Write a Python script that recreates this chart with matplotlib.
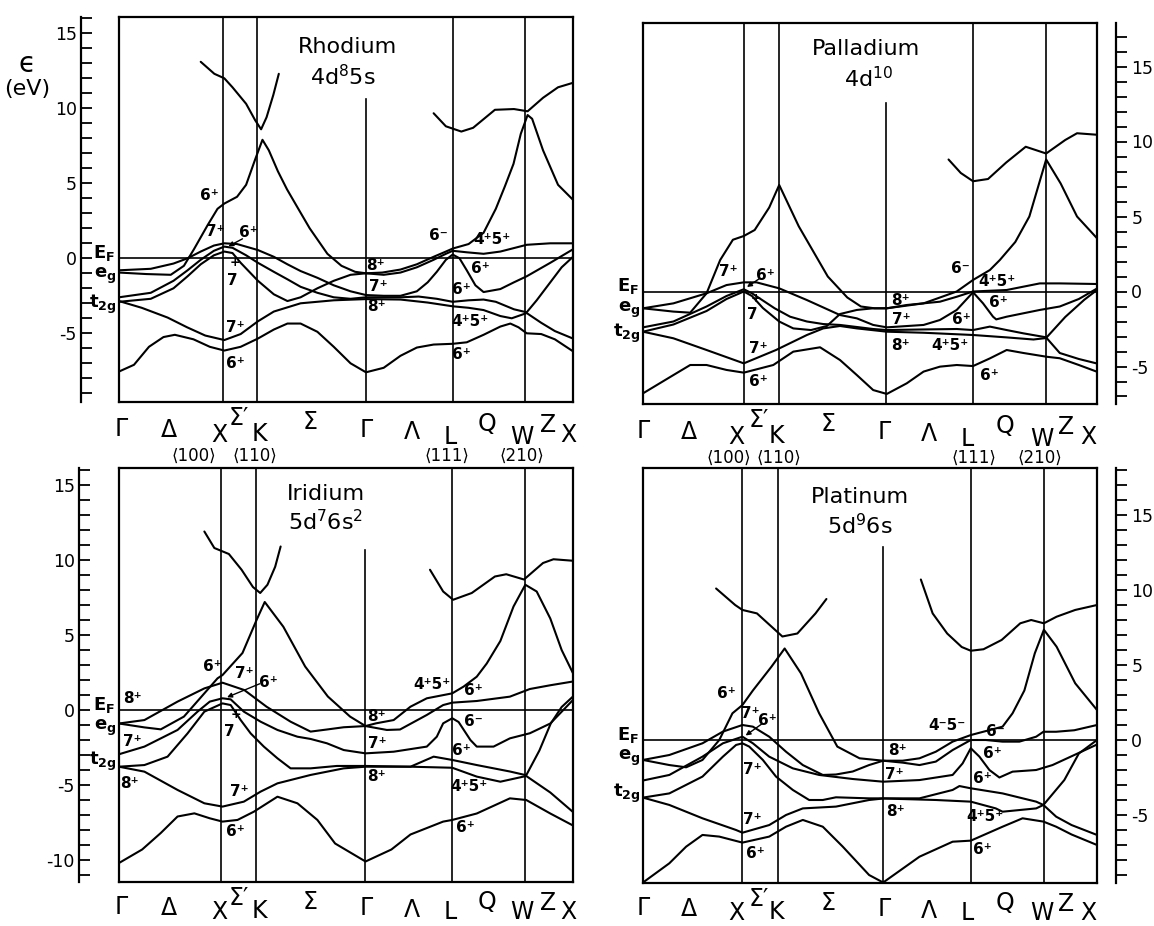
import matplotlib
matplotlib.use('Agg')
import matplotlib.pyplot as plt
from matplotlib.ticker import MultipleLocator

FIG_W, FIG_H = 1154, 926
PX_EV = 15.0  # pixels per eV on every panel
plt.rcParams['axes.unicode_minus'] = False

# ---------------- data ----------------
# k is the fraction of the path Gamma-X-K-Gamma-L-W-X, E in eV
path_names = ['Γ', 'Δ', 'X', 'Σ′', 'K', 'Σ', 'Γ', 'Λ', 'L', 'Q', 'W', 'Z', 'X']

# symmetry lines: X, K, Gamma, L, W
rh_sym = [0.229, 0.304, 0.544, 0.736, 0.894]
pd_sym = [0.222, 0.300, 0.536, 0.727, 0.888]
ir_sym = [0.225, 0.302, 0.542, 0.733, 0.895]
pt_sym = [0.219, 0.297, 0.529, 0.722, 0.883]

# --- Rhodium 4d8 5s
rh_b1 = [(0, -7.55), (0.033, -7.1), (0.066, -5.9), (0.098, -5.25), (0.123, -5.1), (0.164, -5.4),
         (0.2, -5.9), (0.232, -6.15), (0.268, -5.9), (0.306, -5.35), (0.341, -4.75), (0.371, -4.35),
         (0.4, -4.35), (0.437, -4.9), (0.473, -5.9), (0.51, -7.0), (0.544, -7.6), (0.583, -7.3),
         (0.62, -6.5), (0.656, -5.95), (0.693, -5.75), (0.735, -5.7), (0.766, -5.6), (0.803, -5.1),
         (0.84, -4.55), (0.862, -4.35), (0.88, -4.6), (0.898, -5.0), (0.93, -5.05), (0.96, -5.4),
         (1.0, -6.2)]
rh_b2 = [(0, -2.85), (0.05, -3.3), (0.107, -3.95), (0.15, -4.6), (0.19, -5.15), (0.232, -5.45),
         (0.268, -5.05), (0.306, -4.2), (0.341, -3.55), (0.4, -3.0), (0.473, -2.8), (0.544, -2.72),
         (0.62, -2.75), (0.68, -2.95), (0.735, -3.2), (0.77, -3.3), (0.803, -3.45), (0.84, -3.85),
         (0.865, -4.0), (0.898, -3.65), (0.93, -4.3), (0.96, -4.85), (1.0, -5.35)]
rh_s = [(0, -0.95), (0.06, -1.05), (0.114, -1.1), (0.143, -0.5), (0.165, 0.6), (0.195, 2.2),
        (0.217, 3.3), (0.232, 3.65), (0.26, 4.1), (0.28, 4.9), (0.3, 6.6), (0.316, 7.9),
        (0.33, 7.2), (0.35, 5.8), (0.37, 4.6), (0.393, 3.4), (0.42, 2.0), (0.459, 0.3),
        (0.49, -0.5), (0.52, -0.9), (0.544, -1.0), (0.58, -0.95), (0.62, -0.75), (0.656, -0.4),
        (0.693, 0.1), (0.72, 0.45), (0.735, 0.65), (0.77, 0.95), (0.803, 1.7), (0.83, 3.3),
        (0.85, 4.8), (0.869, 6.3), (0.885, 8.3), (0.9, 9.55), (0.91, 9.3), (0.934, 7.2),
        (0.967, 4.9), (1.0, 3.9)]
rh_e1 = [(0, -0.8), (0.07, -0.7), (0.12, -0.35), (0.151, 0.0), (0.18, 0.45), (0.209, 0.85),
         (0.232, 1.0), (0.26, 0.95), (0.306, 0.55), (0.341, 0.1), (0.371, -0.4), (0.4, -0.85),
         (0.437, -1.3), (0.473, -1.8), (0.51, -2.2), (0.544, -2.45), (0.583, -2.5), (0.62, -2.5),
         (0.656, -2.2), (0.68, -1.6), (0.7, -0.9), (0.72, -0.1), (0.735, 0.25), (0.75, 0.0),
         (0.766, -0.8), (0.785, -1.8), (0.803, -2.25), (0.84, -2.05), (0.87, -1.6), (0.898, -1.2),
         (0.95, -0.3), (1.0, 0.6)]
rh_d3 = [(0, -2.6), (0.07, -2.3), (0.12, -1.5), (0.151, -0.8), (0.18, -0.1), (0.209, 0.5),
         (0.232, 0.78), (0.25, 0.7), (0.28, 0.2), (0.306, -0.3), (0.341, -0.9), (0.371, -1.4),
         (0.4, -1.9), (0.437, -2.3), (0.473, -2.6), (0.51, -2.7), (0.544, -2.6), (0.62, -2.6),
         (0.66, -2.55), (0.7, -2.7), (0.735, -2.9), (0.77, -2.8), (0.803, -2.75), (0.83, -2.9),
         (0.87, -3.4), (0.898, -3.6), (0.92, -2.8), (0.95, -1.6), (0.975, -0.6), (1.0, 0.1)]
rh_d4 = [(0, -2.9), (0.07, -2.7), (0.12, -2.0), (0.151, -1.2), (0.18, -0.4), (0.209, 0.2),
         (0.232, 0.45), (0.25, 0.35), (0.268, -0.3), (0.306, -1.5), (0.341, -2.4), (0.371, -2.85),
         (0.4, -2.6), (0.437, -2.0), (0.473, -1.5), (0.51, -1.1), (0.544, -1.0), (0.583, -1.1),
         (0.62, -0.95), (0.656, -0.6), (0.693, -0.1), (0.72, 0.3), (0.735, 0.5), (0.766, 0.4),
         (0.803, 0.3), (0.84, 0.45), (0.898, 0.9), (0.95, 1.0), (1.0, 1.0)]
rh_u1 = [(0.18, 13.1), (0.21, 12.3), (0.232, 12.0), (0.25, 11.4), (0.28, 10.3), (0.3, 9.2),
         (0.313, 8.6), (0.325, 9.4), (0.34, 10.9), (0.352, 12.3)]
rh_u2 = [(0.693, 9.67), (0.72, 8.8), (0.754, 8.45), (0.78, 8.7), (0.828, 9.9), (0.87, 9.95),
         (0.9, 9.8), (0.934, 10.7), (0.967, 11.4), (1.0, 11.7)]

# --- Palladium 4d10
pd_b1 = [(0, -6.79), (0.067, -5.57), (0.104, -4.9), (0.14, -4.9), (0.184, -5.23), (0.222, -5.41),
         (0.287, -4.9), (0.331, -4.01), (0.39, -3.72), (0.434, -4.57), (0.471, -5.57),
         (0.507, -6.57), (0.537, -6.83), (0.581, -6.12), (0.618, -5.34), (0.654, -5.01),
         (0.691, -4.9), (0.727, -4.97), (0.764, -4.46), (0.801, -3.9), (0.838, -4.1),
         (0.889, -4.35), (0.918, -4.45), (0.96, -4.9), (1.0, -5.35)]
pd_b2 = [(0, -2.68), (0.067, -3.12), (0.14, -3.9), (0.222, -4.79), (0.293, -3.9), (0.361, -2.9),
         (0.397, -2.46), (0.434, -2.3), (0.471, -2.46), (0.537, -2.68), (0.618, -2.75),
         (0.727, -2.9), (0.801, -3.06), (0.86, -3.2), (0.889, -3.1), (0.918, -4.1), (0.96, -4.5),
         (1.0, -4.8)]
pd_s = [(0, -1.12), (0.067, -1.34), (0.104, -1.41), (0.14, -0.12), (0.17, 2.1), (0.198, 3.45),
        (0.222, 3.7), (0.246, 4.1), (0.278, 5.6), (0.3, 7.1), (0.343, 4.35), (0.407, 1.0),
        (0.45, -0.4), (0.48, -1.0), (0.51, -1.12), (0.537, -1.12), (0.618, -0.79), (0.691, 0.0),
        (0.727, 0.77), (0.764, 1.43), (0.786, 2.1), (0.82, 3.3), (0.851, 5.0), (0.888, 8.8),
        (0.92, 7.2), (0.956, 5.0), (1.0, 3.55)]
pd_e1 = [(0, -1.12), (0.067, -0.79), (0.14, -0.12), (0.184, 0.43), (0.222, 0.61), (0.25, 0.61),
         (0.3, 0.21), (0.361, -0.57), (0.434, -1.57), (0.471, -1.79), (0.507, -2.23),
         (0.537, -2.39), (0.618, -2.23), (0.654, -1.9), (0.691, -1.23), (0.727, -0.05),
         (0.749, -0.79), (0.771, -1.68), (0.778, -1.86), (0.801, -1.68), (0.874, -1.23),
         (0.918, -1.0), (0.96, -0.5), (1.0, 0.2)]
pd_d3 = [(0, -2.39), (0.067, -2.0), (0.14, -1.0), (0.184, -0.3), (0.222, 0.15), (0.24, -0.12),
         (0.29, -1.12), (0.324, -1.68), (0.361, -2.0), (0.397, -2.17), (0.434, -2.23),
         (0.507, -2.5), (0.537, -2.57), (0.618, -2.53), (0.691, -2.5), (0.727, -2.57),
         (0.764, -2.34), (0.801, -2.57), (0.838, -2.79), (0.889, -3.06), (0.93, -1.7),
         (0.972, -0.55), (1.0, 0.1)]
pd_d4 = [(0, -2.68), (0.067, -2.2), (0.14, -1.3), (0.184, -0.5), (0.222, 0.0), (0.24, -0.3),
         (0.264, -1.1), (0.3, -2.0), (0.331, -2.46), (0.37, -2.57), (0.405, -2.3), (0.434, -1.5),
         (0.471, -1.23), (0.507, -1.12), (0.537, -1.12), (0.581, -0.9), (0.654, -0.68),
         (0.691, -0.35), (0.727, 0.0), (0.801, 0.1), (0.874, 0.54), (0.918, 0.54), (1.0, 0.5)]
pd_u2 = [(0.673, 8.8), (0.7, 7.9), (0.727, 7.35), (0.76, 7.5), (0.8, 8.6), (0.843, 9.65),
         (0.888, 9.2), (0.93, 10.1), (0.956, 10.55), (1.0, 10.45)]

# --- Iridium 5d7 6s2
ir_b1 = [(0, -10.2), (0.051, -9.3), (0.092, -8.2), (0.129, -7.1), (0.166, -6.89), (0.2, -7.22),
         (0.228, -7.44), (0.261, -7.33), (0.297, -6.78), (0.349, -5.78), (0.393, -6.22),
         (0.437, -7.33), (0.476, -8.9), (0.543, -10.1), (0.6, -9.3), (0.642, -8.3), (0.714, -7.44),
         (0.734, -7.33), (0.788, -6.9), (0.861, -5.89), (0.897, -6.0), (0.95, -6.9), (1.0, -7.7)]
ir_b2 = [(0, -3.78), (0.056, -4.11), (0.129, -5.33), (0.188, -6.22), (0.228, -6.44), (0.275, -6.11),
         (0.312, -5.44), (0.349, -4.89), (0.422, -4.33), (0.495, -3.89), (0.543, -3.78),
         (0.642, -3.78), (0.734, -3.85), (0.788, -4.44), (0.84, -4.78), (0.897, -4.4), (0.95, -5.5),
         (1.0, -6.8)]
ir_s = [(0, -0.9), (0.056, -1.16), (0.092, -1.29), (0.143, -0.44), (0.188, 1.11), (0.217, 2.11),
        (0.228, 2.33), (0.272, 3.8), (0.303, 6.0), (0.321, 7.2), (0.362, 5.55), (0.41, 2.9),
        (0.46, 0.9), (0.509, -0.44), (0.543, -1.07), (0.566, -0.89), (0.605, -0.67), (0.642, 0.22),
        (0.678, 0.78), (0.734, 1.11), (0.759, 1.56), (0.788, 2.22), (0.81, 3.1), (0.84, 4.6),
        (0.869, 6.9), (0.895, 8.35), (0.92, 7.9), (0.95, 6.1), (0.975, 4.0), (1.0, 2.45)]
ir_e1 = [(0, -0.9), (0.056, -0.67), (0.129, 0.56), (0.188, 1.44), (0.228, 1.82), (0.276, 1.33),
         (0.325, 0.22), (0.378, -0.78), (0.422, -1.44), (0.458, -1.3), (0.495, -1.15),
         (0.543, -1.07), (0.59, -1.33), (0.619, -1.3), (0.678, -0.33), (0.714, 0.33), (0.734, 0.49),
         (0.788, 0.6), (0.861, 0.89), (0.905, 1.4), (0.95, 1.65), (1.0, 1.9)]
ir_d3 = [(0, -2.95), (0.056, -2.44), (0.129, -1.33), (0.173, -0.11), (0.2, 0.56), (0.228, 0.78),
         (0.246, 0.71), (0.275, -0.11), (0.312, -0.78), (0.349, -1.33), (0.393, -1.78),
         (0.422, -1.93), (0.458, -2.22), (0.495, -2.67), (0.543, -2.89), (0.605, -2.78),
         (0.678, -2.44), (0.7, -1.78), (0.714, -0.89), (0.734, -0.55), (0.748, -0.8), (0.774, -2.0),
         (0.788, -2.44), (0.825, -2.44), (0.861, -1.89), (0.905, -1.55), (0.95, -0.9), (1.0, 0.67)]
ir_d4 = [(0, -3.78), (0.056, -3.67), (0.107, -3.11), (0.151, -1.56), (0.188, -0.11), (0.228, 0.44),
         (0.246, 0.33), (0.268, -0.67), (0.29, -1.56), (0.319, -2.44), (0.349, -3.22),
         (0.378, -3.89), (0.422, -3.89), (0.48, -3.73), (0.543, -3.73), (0.642, -3.78),
         (0.693, -3.11), (0.734, -3.33), (0.788, -3.67), (0.861, -4.1), (0.897, -4.35),
         (0.926, -2.7), (0.951, -0.9), (0.975, 0.2), (1.0, 0.9)]
ir_u1 = [(0.188, 11.9), (0.21, 10.8), (0.242, 10.4), (0.27, 9.35), (0.295, 8.2), (0.311, 7.8),
         (0.327, 8.35), (0.344, 9.55), (0.356, 10.9)]
ir_u2 = [(0.685, 9.35), (0.714, 7.9), (0.736, 7.35), (0.777, 7.8), (0.828, 8.9), (0.853, 9.05),
         (0.892, 8.7), (0.934, 9.8), (0.957, 10.05), (1.0, 9.95)]

# --- Platinum 5d9 6s
pt_b1 = [(0, -9.5), (0.058, -8.22), (0.095, -7.11), (0.131, -6.33), (0.168, -6.44), (0.219, -6.84),
         (0.278, -6.44), (0.315, -5.78), (0.352, -5.33), (0.396, -5.78), (0.44, -7.11),
         (0.498, -9.0), (0.529, -9.5), (0.609, -7.78), (0.682, -6.78), (0.722, -6.71),
         (0.792, -5.78), (0.836, -5.22), (0.882, -5.44), (0.91, -5.78), (0.944, -6.3), (1.0, -7.0)]
pt_b2 = [(0, -3.84), (0.058, -4.33), (0.131, -5.22), (0.205, -6.0), (0.219, -6.18), (0.278, -5.67),
         (0.315, -5.0), (0.352, -4.56), (0.425, -4.44), (0.498, -4.0), (0.529, -3.9), (0.645, -4.0),
         (0.722, -4.11), (0.777, -4.56), (0.792, -4.78), (0.866, -4.56), (0.882, -4.33),
         (0.91, -5.11), (0.944, -5.67), (1.0, -6.33)]
pt_s = [(0, -1.33), (0.058, -1.67), (0.095, -1.82), (0.131, -1.33), (0.168, 0.0), (0.197, 1.78),
        (0.219, 2.33), (0.242, 3.3), (0.283, 4.89), (0.312, 6.1), (0.348, 4.44), (0.388, 1.78),
        (0.428, -0.44), (0.477, -1.22), (0.529, -1.38), (0.572, -1.38), (0.609, -1.22),
        (0.645, -0.78), (0.682, -0.11), (0.722, 0.33), (0.792, 0.89), (0.814, 1.78), (0.84, 3.3),
        (0.863, 5.78), (0.883, 7.35), (0.911, 6.22), (0.952, 3.78), (1.0, 2.0)]
pt_e1 = [(0, -1.33), (0.058, -1.0), (0.131, -0.22), (0.176, 0.56), (0.219, 1.0), (0.242, 0.89),
         (0.278, 0.22), (0.315, -0.78), (0.352, -1.67), (0.396, -2.33), (0.425, -2.3),
         (0.462, -2.1), (0.498, -1.67), (0.529, -1.38), (0.572, -1.51), (0.609, -1.67),
         (0.645, -1.44), (0.682, -0.67), (0.722, 0.0), (0.755, 0.0), (0.792, -0.11), (0.829, -0.11),
         (0.866, 0.22), (0.882, 0.55), (0.91, 0.55), (0.95, 0.65), (1.0, 1.0)]
pt_d3 = [(0, -2.7), (0.058, -2.33), (0.131, -1.11), (0.176, -0.22), (0.219, 0.22), (0.242, -0.22),
         (0.278, -1.11), (0.33, -1.89), (0.388, -2.33), (0.462, -2.6), (0.529, -2.78),
         (0.609, -2.67), (0.682, -2.33), (0.704, -1.56), (0.722, -0.55), (0.741, -1.11),
         (0.763, -2.0), (0.785, -2.5), (0.814, -2.11), (0.866, -2.0), (0.902, -1.67), (0.95, -1.0),
         (1.0, -0.3)]
pt_d4 = [(0, -3.84), (0.058, -3.56), (0.131, -2.44), (0.176, -1.11), (0.205, -0.33), (0.219, -0.22),
         (0.234, -0.44), (0.264, -1.33), (0.293, -2.44), (0.33, -3.33), (0.366, -4.0),
         (0.396, -4.0), (0.425, -3.82), (0.498, -3.89), (0.529, -3.89), (0.609, -3.89),
         (0.682, -3.33), (0.697, -3.07), (0.722, -3.22), (0.792, -3.56), (0.866, -4.11),
         (0.882, -4.33), (0.928, -2.67), (0.96, -0.9), (1.0, 0.0)]
pt_u1 = [(0.161, 10.1), (0.203, 9.0), (0.219, 8.67), (0.251, 8.44), (0.283, 7.56), (0.307, 6.9),
         (0.34, 7.1), (0.38, 8.44), (0.404, 9.4)]
pt_u2 = [(0.612, 10.7), (0.638, 8.44), (0.67, 7.1), (0.702, 6.2), (0.722, 5.95), (0.75, 6.05),
         (0.79, 6.67), (0.831, 7.78), (0.855, 8.0), (0.883, 7.78), (0.911, 8.22), (0.952, 8.67),
         (1.0, 9.0)]

# top of the partial Gamma line (eV)
rh_gtop, pd_gtop, ir_gtop, pt_gtop = 10.6, 12.6, 10.7, 12.9

# representation labels (text, k, E)
rh_tags = [('6⁺', 0.200, 4.2), ('7⁺', 0.213, 1.8), ('6⁺', 0.284, 1.75), ('+', 0.255, -0.3),
           ('7', 0.250, -1.45), ('7⁺', 0.257, -4.6), ('6⁺', 0.257, -7.0), ('8⁺', 0.565, -0.45),
           ('7⁺', 0.572, -1.9), ('8⁺', 0.568, -3.2), ('6⁻', 0.704, 1.55), ('4⁺5⁺', 0.821, 1.25),
           ('6⁺', 0.796, -0.65), ('6⁺', 0.755, -2.1), ('4⁺5⁺', 0.774, -4.2), ('6⁺', 0.755, -6.4)]
pd_tags = [('7⁺', 0.188, 1.32), ('6⁺', 0.269, 1.1), ('+', 0.249, -0.45), ('7', 0.241, -1.55),
           ('7⁺', 0.254, -3.79), ('6⁺', 0.254, -6.0), ('8⁺', 0.566, -0.57), ('7⁺', 0.57, -1.9),
           ('8⁺', 0.566, -3.57), ('6⁻', 0.698, 1.54), ('4⁺5⁺', 0.779, 0.65), ('6⁺', 0.783, -0.75),
           ('6⁺', 0.702, -1.9), ('4⁺5⁺', 0.676, -3.57), ('6⁺', 0.764, -5.57)]
ir_tags = [('8⁺', 0.03, 0.78), ('7⁺', 0.03, -2.11), ('8⁺', 0.023, -4.9), ('6⁺', 0.206, 2.93),
           ('7⁺', 0.275, 2.44), ('6⁺', 0.33, 1.82), ('+', 0.258, -0.3), ('7', 0.243, -1.4),
           ('7⁺', 0.265, -5.44), ('6⁺', 0.257, -8.1), ('8⁺', 0.568, -0.44), ('7⁺', 0.568, -2.22),
           ('8⁺', 0.568, -4.44), ('4⁺5⁺', 0.689, 1.67), ('6⁺', 0.781, 1.33), ('6⁻', 0.781, -0.78),
           ('6⁺', 0.755, -2.67), ('4⁺5⁺', 0.77, -5.11), ('6⁺', 0.763, -7.8)]
pt_tags = [('6⁺', 0.183, 3.1), ('7⁺', 0.236, 1.78), ('6⁺', 0.275, 1.33), ('7⁺', 0.24, -2.0),
           ('7⁺', 0.24, -5.33), ('6⁺', 0.247, -7.56), ('8⁺', 0.561, -0.67), ('7⁺', 0.554, -2.33),
           ('8⁺', 0.557, -4.78), ('4⁻5⁻', 0.67, 1.0), ('6⁻', 0.776, 0.56), ('6⁺', 0.769, -0.89),
           ('6⁺', 0.747, -2.56), ('4⁺5⁺', 0.754, -5.11), ('6⁺', 0.747, -7.33)]

# leader lines from a label to the X point: ((k0, E0), (k1, E1))
rh_arrow = ((0.272, 1.3), (0.241, 0.8))
pd_arrow = ((0.256, 0.85), (0.229, 0.3))
ir_arrow = ((0.31, 1.75), (0.238, 0.85))
pt_arrow = ((0.263, 1.1), (0.226, 0.3))

# high-symmetry label positions along the bottom
rh_name_k = [0.004, 0.11, 0.22, 0.265, 0.31, 0.42, 0.545, 0.645, 0.73, 0.811, 0.888, 0.945, 0.989]
pd_name_k = [0.0, 0.10, 0.206, 0.254, 0.294, 0.407, 0.532, 0.629, 0.714, 0.798, 0.879, 0.931, 0.98]
top_drop = [27, 28, 33, 16, 32, 20, 28, 30, 35, 22, 35, 23, 33]  # px below frame
low_drop = [25, 26, 30, 16, 29, 20, 26, 28, 30, 20, 30, 21, 30]

dir_names = ['⟨100⟩', '⟨110⟩', '⟨111⟩', '⟨210⟩']
rh_dir_k = [0.164, 0.30, 0.723, 0.888]
pd_dir_k = [0.19, 0.30, 0.73, 0.875]


def add_panel(fig, frame, sym, gtop, bands, tags, arrow, title, config, tpos,
              name_k, drops, axis_loc, majors, t2g_e, dirs_k=None):
    left, right, top, bottom, zero = frame
    ax = fig.add_axes([left / FIG_W, 1 - bottom / FIG_H,
                       (right - left) / FIG_W, (bottom - top) / FIG_H])
    ymax = (zero - top) / PX_EV
    ymin = (zero - bottom) / PX_EV
    ax.set_xlim(0, 1)
    ax.set_ylim(ymin, ymax)
    ax.set_xticks([])
    ax.set_yticks([])
    for sp in ax.spines.values():
        sp.set_linewidth(1.6)

    # Fermi level and symmetry lines
    ax.axhline(0, color='k', lw=1.2)
    x1, kk, gg, ll, ww = sym
    for xv in (x1, kk, ll, ww):
        ax.axvline(xv, color='k', lw=1.2)
    ax.plot([gg, gg], [ymin, gtop], color='k', lw=1.2)

    for band in bands:
        ks = [p[0] for p in band]
        es = [p[1] for p in band]
        ax.plot(ks, es, color='k', lw=1.5, solid_joinstyle='round',
                solid_capstyle='round')

    for txt, k, e in tags:
        fs = 9 if txt == '+' else 11
        ax.text(k, e, txt, ha='center', va='center', fontsize=fs,
                fontweight='bold')
    (k0, e0), (k1, e1) = arrow
    ax.annotate('', xy=(k1, e1), xytext=(k0, e0),
                arrowprops=dict(arrowstyle='-|>', color='k', lw=1.0,
                                mutation_scale=7, shrinkA=0, shrinkB=0))

    ax.text(tpos[0], tpos[1], title, ha='center', va='center', fontsize=16)
    ax.text(tpos[2], tpos[3], config, ha='center', va='center', fontsize=16)

    # left side level names
    ax.text(-0.008, 0.35, 'E$_\\mathregular{F}$', ha='right', va='center',
            fontsize=13, fontweight='bold')
    ax.text(-0.006, -1.2, 'e$_\\mathregular{g}$', ha='right', va='center',
            fontsize=13, fontweight='bold')
    ax.text(-0.006, t2g_e, 't$_\\mathregular{2g}$', ha='right', va='center',
            fontsize=13, fontweight='bold')

    # symmetry point names below the frame
    for name, k, drop in zip(path_names, name_k, drops):
        ax.text(k, ymin - drop / PX_EV, name, ha='center', va='center',
                fontsize=17)
    if dirs_k is not None:
        for name, k in zip(dir_names, dirs_k):
            ax.text(k, ymin - 54 / PX_EV, name, ha='center', va='center',
                    fontsize=12)

    # separate energy scale
    sec = ax.secondary_yaxis(axis_loc)
    sec.set_yticks(majors)
    sec.yaxis.set_minor_locator(MultipleLocator(1))
    sec.tick_params(which='both', direction='in' if axis_loc < 0.5 else 'out',
                    length=8, width=1.3, labelsize=12.5, pad=3)
    for sp in sec.spines.values():
        sp.set_linewidth(1.6)
    return ax


fig = plt.figure(figsize=(FIG_W / 100, FIG_H / 100), dpi=100)
fig.patch.set_facecolor('white')

# frames: left, right, top, bottom, y of E = 0 (pixels)
ax_rh = add_panel(fig, (119, 573, 17, 402, 258.3), rh_sym, rh_gtop,
                  [rh_b1, rh_b2, rh_s, rh_e1, rh_d3, rh_d4, rh_u1, rh_u2],
                  rh_tags, rh_arrow, 'Rhodium', '4d$^\\mathregular{8}$5s',
                  (0.504, 14.1, 0.493, 12.1), rh_name_k, top_drop, -0.084,
                  [-5, 0, 5, 10, 15], -3.1, rh_dir_k)
ax_pd = add_panel(fig, (643, 1097, 23, 404, 291.5), pd_sym, pd_gtop,
                  [pd_b1, pd_b2, pd_s, pd_e1, pd_d3, pd_d4, pd_u2],
                  pd_tags, pd_arrow, 'Palladium', '4d$^\\mathregular{10}$',
                  (0.492, 16.2, 0.497, 14.2), pd_name_k, top_drop, 1.042,
                  [-5, 0, 5, 10, 15], -2.8, pd_dir_k)
ax_ir = add_panel(fig, (119, 573, 468, 882, 710), ir_sym, ir_gtop,
                  [ir_b1, ir_b2, ir_s, ir_e1, ir_d3, ir_d4, ir_u1, ir_u2],
                  ir_tags, ir_arrow, 'Iridium', '5d$^\\mathregular{7}$6s$^\\mathregular{2}$',
                  (0.456, 14.4, 0.456, 12.55), rh_name_k, low_drop, -0.088,
                  [-10, -5, 0, 5, 10, 15], -3.45)
ax_pt = add_panel(fig, (643, 1097, 468, 883, 740), pt_sym, pt_gtop,
                  [pt_b1, pt_b2, pt_s, pt_e1, pt_d3, pt_d4, pt_u1, pt_u2],
                  pt_tags, pt_arrow, 'Platinum', '5d$^\\mathregular{9}$6s',
                  (0.477, 16.2, 0.478, 14.3), pd_name_k, low_drop, 1.042,
                  [-5, 0, 5, 10, 15], -3.55)

# energy axis title
ax_rh.text(-0.203, 12.95, 'ϵ', ha='center', va='center', fontsize=20)
ax_rh.text(-0.203, 11.3, '(eV)', ha='center', va='center', fontsize=16)

fig.savefig('out.png', dpi=100)
